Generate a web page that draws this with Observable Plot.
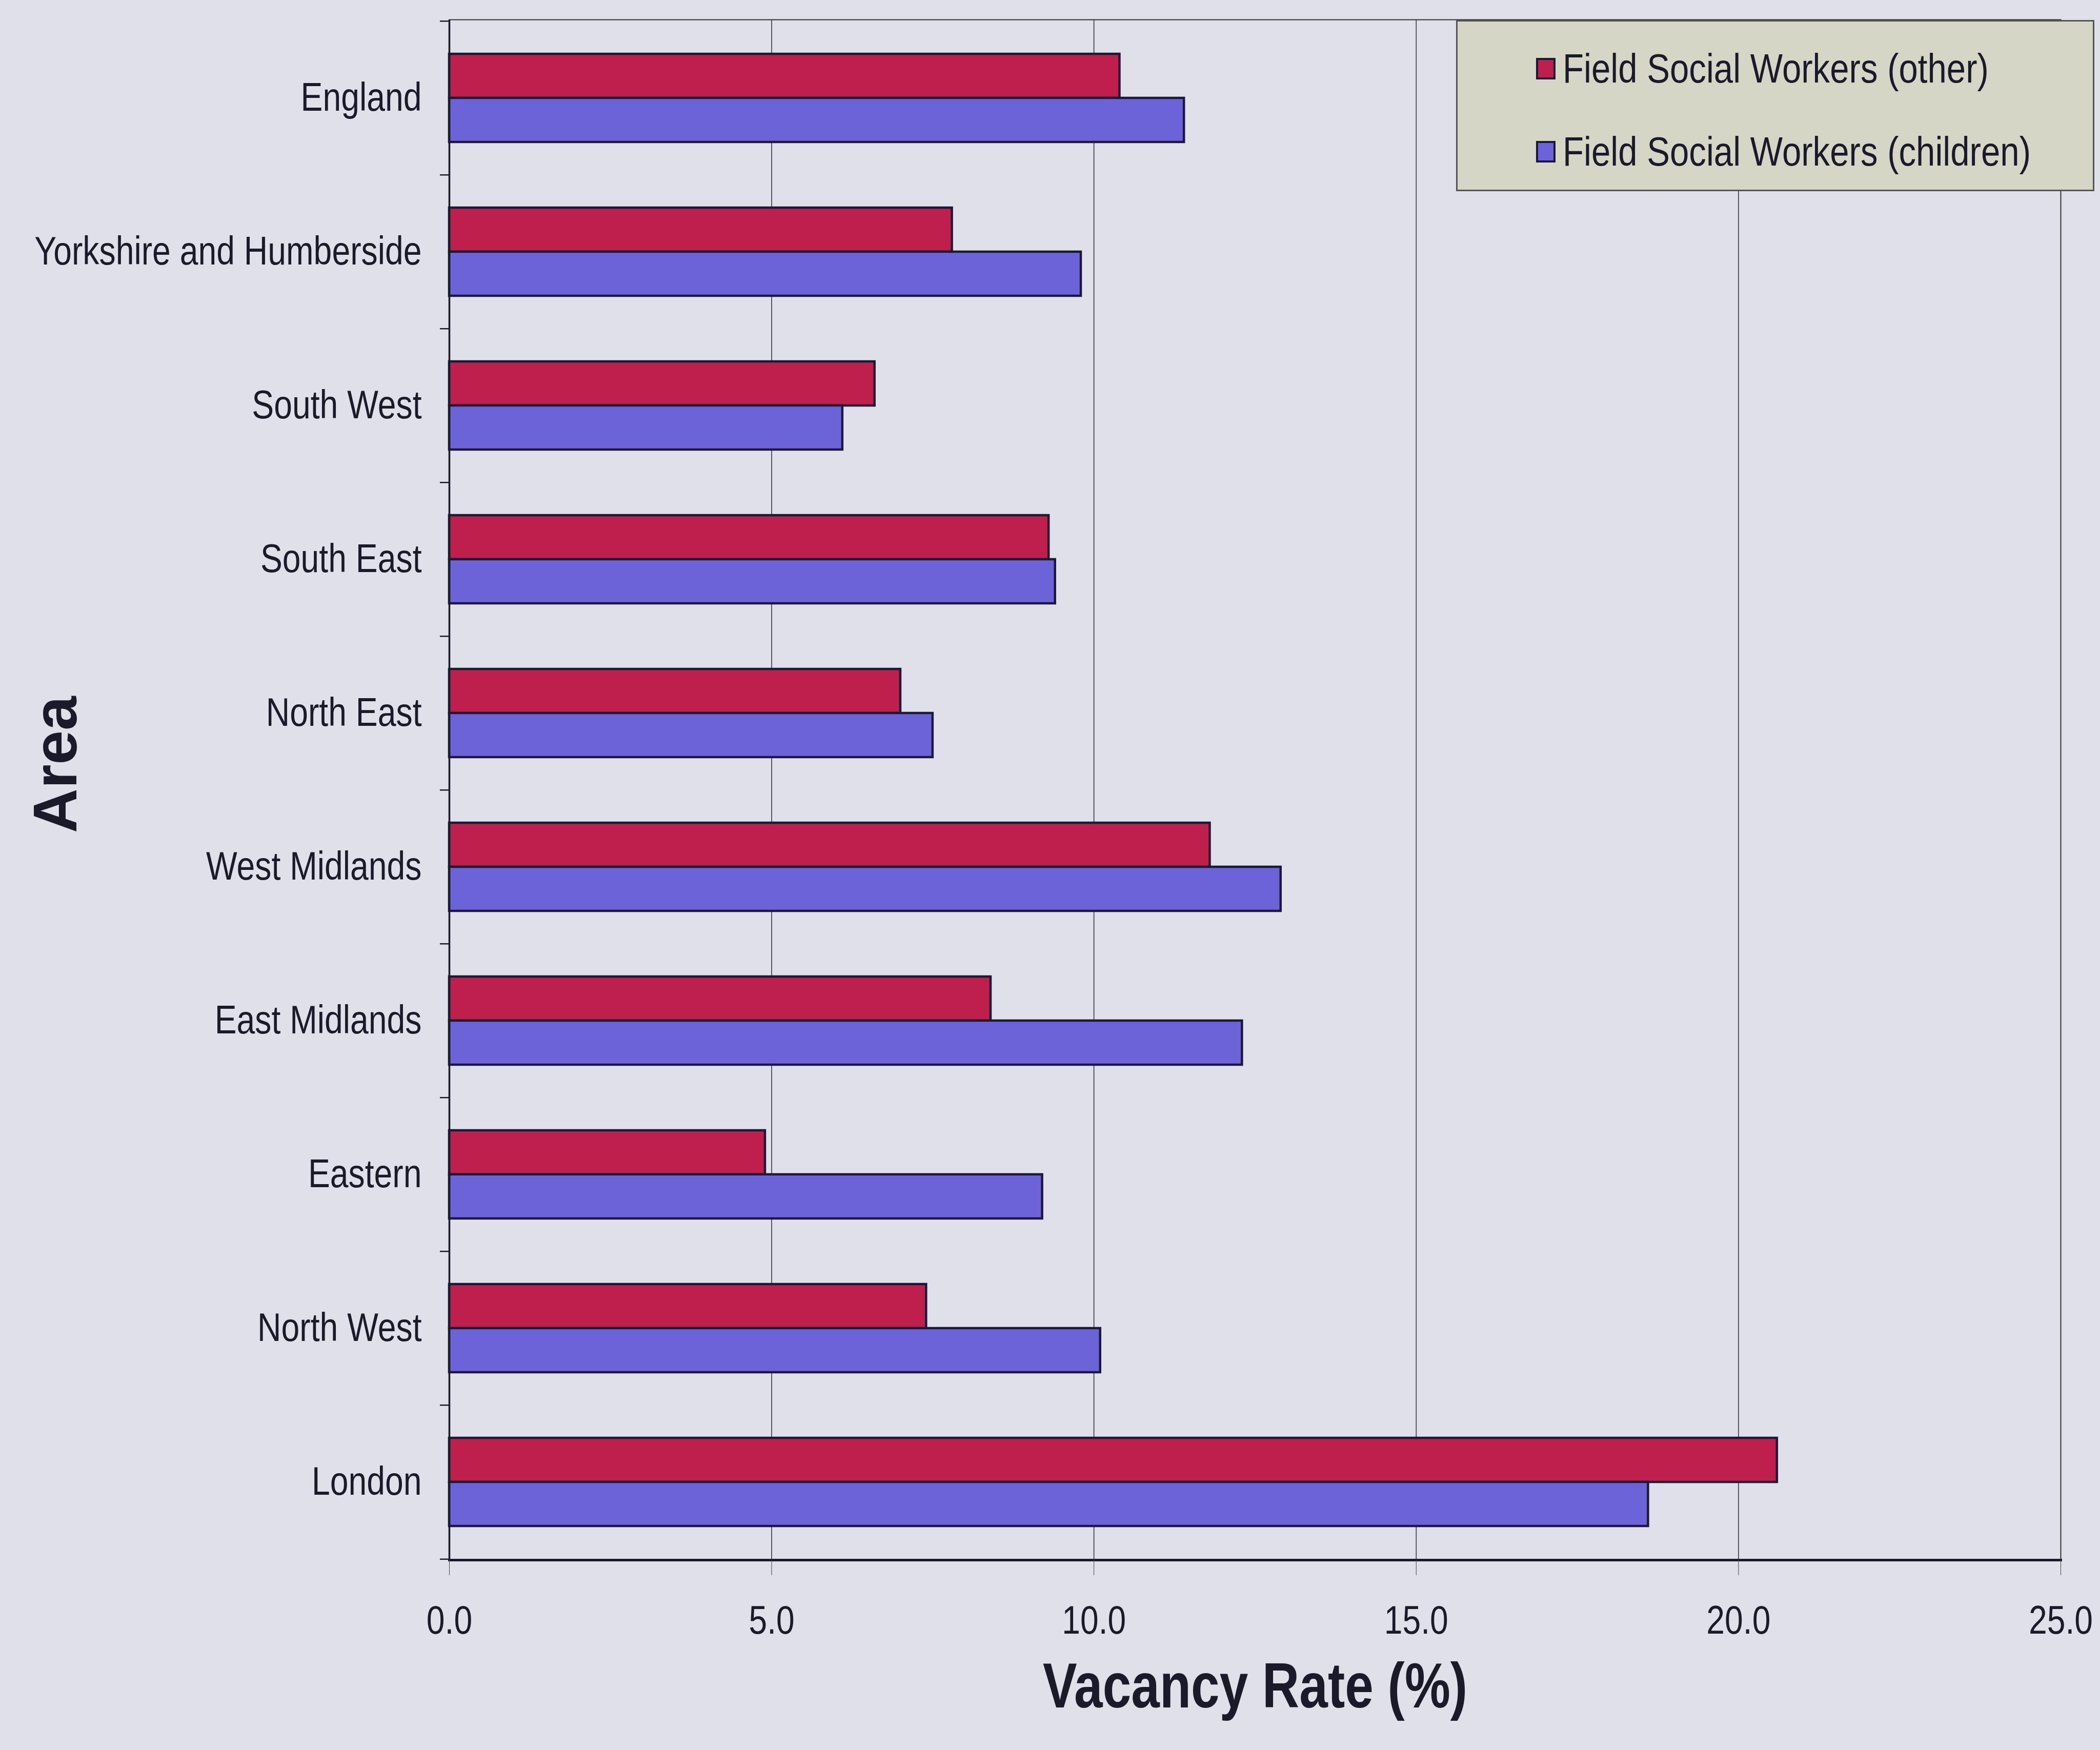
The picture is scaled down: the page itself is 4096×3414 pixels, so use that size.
<!DOCTYPE html>
<html>
<head>
<meta charset="utf-8">
<script src="https://cdn.jsdelivr.net/npm/d3@7"></script>
<script src="https://cdn.jsdelivr.net/npm/@observablehq/plot@0.6"></script>
<style>
  html, body { margin: 0; padding: 0; background: #dfe0ea; }
  #chart { position: relative; width: 4096px; height: 3414px; background: #dfe0ea; overflow: hidden; }
  #chart svg { overflow: visible; }
  #legend {
    position: absolute; left: 2840px; top: 39px; width: 1239px; height: 328px;
    background: #d6d6c7; border: 3px solid #555; box-sizing: content-box;
    font-family: "Liberation Sans", Arial, sans-serif; color: #1a1a2a;
  }
  .row { position: absolute; left: 153px; height: 60px; display: flex; align-items: center; white-space: nowrap; }
  .sw { width: 38px; height: 42px; border: 4px solid #1c1838; box-sizing: border-box; flex: none; }
  .lab { font-size: 79px; transform: scaleX(0.85); transform-origin: left center; margin-left: 14px; }
</style>
</head>
<body>
<div id="chart"></div>
<script>
// Vacancy rates (%) by area for two groups of field social workers
const areas = [
  "England", "Yorkshire and Humberside", "South West", "South East", "North East",
  "West Midlands", "East Midlands", "Eastern", "North West", "London"
];
const otherRates    = [10.4, 7.8, 6.6, 9.3, 7.0, 11.8, 8.4, 4.9, 7.4, 20.6];
const childrenRates = [11.4, 9.8, 6.1, 9.4, 7.5, 12.9, 12.3, 9.2, 10.1, 18.6];

const seriesNames  = ["Field Social Workers (other)", "Field Social Workers (children)"];
const seriesColors = ["#bf1f4c", "#6b63d7"];
const xTicks = [0, 5, 10, 15, 20, 25];
const xTitle = "Vacancy Rate (%)";
const yTitle = "Area";

// layout
const W = 4096, H = 3414;
const mL = 876, mR = 77, mT = 38, mB = 371;
const padInner = 0.428;
const step = (H - mT - mB) / areas.length;
const half = step * (1 - padInner) / 2;
const pxPerUnit = (W - mL - mR) / 25;
const tickUnits = 18 / pxPerUnit;
const ink = "#1a1a2a";
const barStroke = "#1c1838";

const otherRows = areas.map((a, i) => ({area: a, value: otherRates[i]}));
const childRows = areas.map((a, i) => ({area: a, value: childrenRates[i]}));

const chart = Plot.plot({
  width: W, height: H,
  marginLeft: mL, marginRight: mR, marginTop: mT, marginBottom: mB,
  style: {background: "#dfe0ea", fontFamily: "'Liberation Sans', Arial, sans-serif", color: ink, overflow: "visible"},
  x: {domain: [0, 25]},
  y: {domain: areas, paddingInner: padInner, paddingOuter: padInner / 2},
  marks: [
    Plot.gridX({ticks: [5, 10, 15, 20], stroke: "#4a4a55", strokeOpacity: 1, strokeWidth: 1.8}),
    Plot.barX(otherRows, {y: "area", x: "value", fill: seriesColors[0], stroke: barStroke, strokeWidth: 4.5, insetBottom: half}),
    Plot.barX(childRows, {y: "area", x: "value", fill: seriesColors[1], stroke: barStroke, strokeWidth: 4.5, insetTop: half}),
    Plot.frame({stroke: "#333", strokeWidth: 2}),
    Plot.ruleX([0], {stroke: ink, strokeWidth: 3.5}),
    Plot.frame({anchor: "bottom", stroke: ink, strokeWidth: 5}),
    // category boundary ticks on the left axis
    Plot.ruleY(areas, {y: d => d, dy: -step / 2, x1: -tickUnits, x2: 0, stroke: ink, strokeWidth: 2.5}),
    Plot.ruleY(areas.slice(-1), {y: d => d, dy: step / 2, x1: -tickUnits, x2: 0, stroke: ink, strokeWidth: 2.5}),
    Plot.axisY({tickSize: 0, tickPadding: 54, fontSize: 77, label: null}),
    Plot.axisX({ticks: xTicks, tickFormat: d => d.toFixed(1), tickSize: 30, tickPadding: 59, fontSize: 77, stroke: "#444", label: null}),
    Plot.text([xTitle], {text: d => d, frameAnchor: "bottom", dy: 287, fontSize: 125, fontWeight: "bold", fill: ink}),
    Plot.text([yTitle], {text: d => d, frameAnchor: "left", rotate: -90, dx: -766, dy: 84, fontSize: 120, fontWeight: "bold", fill: ink})
  ]
});

const holder = document.getElementById("chart");
holder.append(chart);

// narrow letterforms for labels, as in the original typeface
d3.select(chart).selectAll("text").each(function () {
  const t = d3.select(this);
  const txt = this.textContent;
  if (txt === yTitle) return;
  const f = txt === xTitle ? 0.80 : 0.835;
  const len = this.getComputedTextLength();
  t.attr("textLength", len * f).attr("lengthAdjust", "spacingAndGlyphs");
});

// legend box
const legend = document.createElement("div");
legend.id = "legend";
seriesNames.forEach((name, i) => {
  const row = document.createElement("div");
  row.className = "row";
  row.style.top = (i === 0 ? 62 : 224) + "px";
  const sw = document.createElement("div");
  sw.className = "sw";
  sw.style.background = seriesColors[i];
  const lab = document.createElement("span");
  lab.className = "lab";
  lab.textContent = name;
  row.append(sw, lab);
  legend.append(row);
});
holder.append(legend);
</script>
</body>
</html>
